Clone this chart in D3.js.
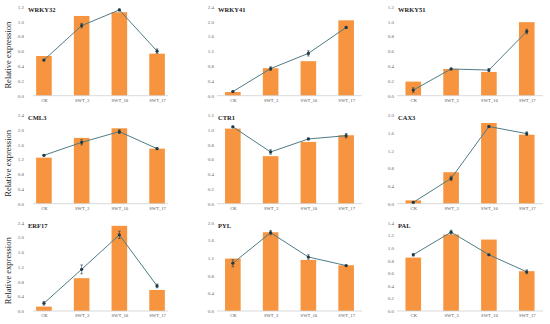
<!DOCTYPE html>
<html><head><meta charset="utf-8">
<script src="https://cdn.jsdelivr.net/npm/d3@7"></script>
<style>body{margin:0;background:#fff}svg{display:block}</style>
</head><body>
<script>
const categories = ["CK","SWT_3","SWT_10","SWT_17"];
const genes = ["WRKY32","WRKY41","WRKY51","CML3","CTR1","CAX3","ERF17","PYL","PAL"];
const yMax = [1.2,2.4,1.2,2.4,1.2,2.0,2.4,2.0,1.4];
const yStep = [0.2,0.4,0.2,0.4,0.2,0.4,0.4,0.4,0.2];
const barValues = [
  [0.535,1.074,1.124,0.566],
  [0.10,0.74,0.93,2.03],
  [0.19,0.36,0.32,0.99],
  [1.245,1.78,2.04,1.49],
  [1.016,0.643,0.836,0.926],
  [0.075,0.71,1.82,1.556],
  [0.12,0.89,2.31,0.57],
  [1.185,1.78,1.155,1.034],
  [0.845,1.21,1.13,0.63]
];
const lineValues = [
  [0.48,0.944,1.155,0.60],
  [0.11,0.73,1.14,1.84],
  [0.076,0.36,0.345,0.865],
  [1.31,1.66,1.95,1.49],
  [1.04,0.70,0.876,0.92],
  [0.03,0.57,1.74,1.58],
  [0.21,1.13,2.065,0.68],
  [1.08,1.77,1.22,1.026],
  [0.89,1.247,0.89,0.62]
];
const errValues = [
  [0.01,0.03,0.01,0.03],
  [0.01,0.05,0.07,0.02],
  [0.03,0.01,0.02,0.03],
  [0.02,0.07,0.05,0.02],
  [0.01,0.03,0.01,0.03],
  [0.01,0.05,0.02,0.04],
  [0.05,0.12,0.10,0.05],
  [0.08,0.05,0.05,0.01],
  [0.02,0.03,0.01,0.03]
];
const yLabel = "Relative expression";

// layout
const cols = [
  {labelRight:24, L:33, R:168, pad:0.29},
  {labelRight:214, L:217, R:362, pad:0.42},
  {labelRight:394, L:397, R:543, pad:0.43}
];
const rows = [
  {bottom:95.7, top:6.6},
  {bottom:203.7, top:115},
  {bottom:311, top:222.5}
];

const W = 550, H = 324;
const svg = d3.select("body").append("svg").attr("width",W).attr("height",H);
const font = "'Liberation Serif','Times New Roman',serif";
const barColor = "#F7943F";
const lineColor = "#4E7C86";
const dotColor = "#1E3A46";

genes.forEach((g,i)=>{
  const c = cols[i%3], r = rows[Math.floor(i/3)];
  const x = d3.scalePoint().domain(categories).range([c.L,c.R]).padding(c.pad);
  const y = d3.scaleLinear().domain([0,yMax[i]]).range([r.bottom,r.top]);
  const gp = svg.append("g");
  const ticks = d3.range(0, yMax[i]+1e-9, yStep[i]);

  // y tick labels
  const ya = d3.axisLeft(y).tickValues(ticks).tickSize(0).tickPadding(0).tickFormat(d3.format(".1f"));
  const yg = gp.append("g").attr("transform",`translate(${c.labelRight},0)`).call(ya);
  yg.select(".domain").remove();
  yg.selectAll("text").attr("font-family",font).attr("font-size",5).attr("fill","#666");

  // bars
  const bw = 15.6;
  gp.selectAll("rect.bar").data(barValues[i]).join("rect")
    .attr("x",(d,j)=>x(categories[j])-bw/2)
    .attr("y",d=>y(d))
    .attr("width",bw)
    .attr("height",d=>r.bottom-y(d))
    .attr("fill",barColor);

  // x axis
  const xa = d3.axisBottom(x).tickSize(0).tickPadding(3);
  const xg = gp.append("g").attr("transform",`translate(0,${r.bottom})`).call(xa);
  xg.select(".domain").attr("stroke","#d0d0d0").attr("stroke-width",0.8)
    .attr("d",`M${c.L},0H${c.R}`);
  xg.selectAll("text").attr("font-family",font).attr("font-size",4.6).attr("fill","#555");

  // line
  const line = d3.line().x((d,j)=>x(categories[j])).y(d=>y(d));
  gp.append("path").datum(lineValues[i]).attr("d",line)
    .attr("fill","none").attr("stroke",lineColor).attr("stroke-width",1);

  // error bars
  const eb = gp.append("g").attr("stroke",dotColor).attr("stroke-width",0.6);
  lineValues[i].forEach((v,j)=>{
    const cx = x(categories[j]), e = errValues[i][j];
    eb.append("line").attr("x1",cx).attr("x2",cx).attr("y1",y(v-e)).attr("y2",y(v+e));
    eb.append("line").attr("x1",cx-1.3).attr("x2",cx+1.3).attr("y1",y(v-e)).attr("y2",y(v-e));
    eb.append("line").attr("x1",cx-1.3).attr("x2",cx+1.3).attr("y1",y(v+e)).attr("y2",y(v+e));
  });
  gp.selectAll("circle.pt").data(lineValues[i]).join("circle")
    .attr("cx",(d,j)=>x(categories[j])).attr("cy",d=>y(d)).attr("r",1.6)
    .attr("fill",dotColor);

  // title
  gp.append("text").attr("x",c.labelRight+4).attr("y",r.top+5.2)
    .attr("font-family",font).attr("font-size",6.5).attr("font-weight","bold")
    .attr("fill","#222").text(g);

  // y label
  if(i%3===0){
    gp.append("text")
      .attr("transform",`translate(11,${(r.top+r.bottom)/2+4}) rotate(-90)`)
      .attr("text-anchor","middle").attr("font-family",font).attr("font-size",8.5)
      .attr("fill","#222").text(yLabel);
  }
});
</script>
</body></html>
